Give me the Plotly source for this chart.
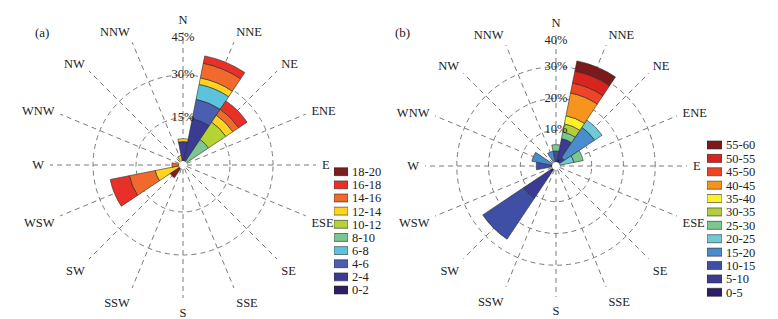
import plotly.graph_objects as go

# ---------------- data ----------------
directions = ["N", "NNE", "NE", "ENE", "E", "ESE", "SE", "SSE",
              "S", "SSW", "SW", "WSW", "W", "WNW", "NW", "NNW"]
angles = [0, 22.5, 45, 67.5, 90, 112.5, 135, 157.5,
          180, 202.5, 225, 247.5, 270, 292.5, 315, 337.5]

# panel (a): frequency (%) of each speed bin by direction
bins_a = ["0-2", "2-4", "4-6", "6-8", "8-10", "10-12", "12-14", "14-16", "16-18", "18-20"]
colors_a = ["#2d1e66", "#3b3b94", "#4a5fb0", "#5cc3df", "#7cc68f",
            "#b6d334", "#ffd320", "#f16a2b", "#e83028", "#7c1e1e"]
a_0_2 = [0, 0, 0, 0, 0, 0, 0, 0, 0, 0, 0, 0, 0, 0, 0, 0]
a_2_4 = [6.8, 15.1, 0, 0, 0, 0, 0, 0, 0, 0, 0, 0, 0, 0, 0, 0]
a_4_6 = [0, 6.9, 0, 0, 0, 0, 0, 0, 0, 0, 0, 0, 0, 0, 0, 0]
a_6_8 = [0, 5.3, 0, 0, 0, 0, 0, 0, 0, 0, 0, 0, 0, 0, 0, 0]
a_8_10 = [0, 0, 9.3, 0, 0, 0, 0, 0, 0, 0, 0, 0, 0, 0, 0, 0]
a_10_12 = [0, 0, 7.3, 0, 0, 0, 0, 0, 0, 0, 0, 0, 0, 0, 0, 0]
a_12_14 = [1.0, 2.3, 2.9, 0, 0, 0, 0, 0, 0, 0, 0, 8.5, 0, 0, 0, 2.0]
a_14_16 = [0, 5.2, 2.5, 0, 0, 0, 0, 0, 0, 0, 0, 9.2, 2.5, 0, 0, 0]
a_16_18 = [0, 2.6, 3.5, 0, 0, 0, 0, 0, 0, 0, 0, 6.8, 0, 0, 0, 0]
a_18_20 = [0, 0, 0, 0, 0, 0, 0, 0, 0, 0, 4.0, 0, 0, 0, 0, 0]
series_a = [a_0_2, a_2_4, a_4_6, a_6_8, a_8_10, a_10_12, a_12_14, a_14_16, a_16_18, a_18_20]
rticks_a = [15, 30, 45]
rlabels_a = ["15%", "30%", "45%"]

# panel (b)
bins_b = ["0-5", "5-10", "10-15", "15-20", "20-25", "25-30",
          "30-35", "35-40", "40-45", "45-50", "50-55", "55-60"]
colors_b = ["#2d1e66", "#3b3b94", "#3f4fa6", "#4a8dcc", "#6fcad6", "#7cc68f",
            "#b3cd3c", "#fff22a", "#f7941e", "#ef4425", "#d9231f", "#7a1a1a"]
b_0_5 = [0, 0.8, 0, 0, 0, 0, 0, 0, 0, 0, 1.0, 0, 0, 0, 0, 0]
b_5_10 = [0, 6.8, 2.0, 0, 0, 0, 0, 0, 0, 0, 10.0, 0, 0, 0, 0, 0]
b_10_15 = [3.5, 0, 0, 0, 0, 0, 0, 0, 0, 0, 15.5, 0, 5.0, 0, 0, 0]
b_15_20 = [0, 0, 11.4, 0, 0, 0, 0, 0, 0, 0, 0, 0, 0, 6.5, 0, 3.5]
b_20_25 = [0, 0, 2.8, 4.5, 0, 0, 0, 0, 0, 0, 0, 0, 0, 0, 0, 0]
b_25_30 = [2.0, 2.1, 0, 3.0, 0, 0, 0, 0, 0, 0, 0, 0, 0, 0, 0, 0]
b_30_35 = [0, 2.6, 0, 0, 0, 0, 0, 0, 0, 0, 0, 0, 0, 0, 0, 0]
b_35_40 = [0, 2.6, 0, 0, 0, 0, 0, 0, 0, 0, 0, 0, 0, 0, 0, 0]
b_40_45 = [0, 7.3, 0, 0, 0, 0, 0, 0, 0, 0, 0, 0, 0, 0, 0, 0]
b_45_50 = [0, 3.2, 0, 0, 0, 0, 0, 0, 0, 0, 0, 0, 0, 0, 0, 0]
b_50_55 = [0, 3.8, 0, 0, 0, 0, 0, 0, 0, 0, 0, 0, 0, 0, 0, 0]
b_55_60 = [0, 3.3, 0, 0, 0, 0, 0, 0, 0, 0, 0, 0, 0, 0, 0, 0]
series_b = [b_0_5, b_5_10, b_10_15, b_15_20, b_20_25, b_25_30,
            b_30_35, b_35_40, b_40_45, b_45_50, b_50_55, b_55_60]
rticks_b = [10, 20, 30, 40]
rlabels_b = ["10%", "20%", "30%", "40%"]

# ---------------- figure ----------------
FONT = "Liberation Serif, Times New Roman, serif"
GRID = "#7a7a7a"
DASH = "5px,4px"
fig = go.Figure()

def add_rose(series, colors, subplot):
    for vals, col in zip(series, colors):
        fig.add_trace(go.Barpolar(
            r=vals, theta=angles, width=22.5, subplot=subplot,
            marker=dict(color=col, line=dict(color="#2a2a2a", width=0.6)),
            showlegend=False, hoverinfo="skip"))

def add_rlabels(ticks, labels, subplot):
    pos = ["middle center"] * (len(ticks) - 1) + ["bottom center"]
    fig.add_trace(go.Scatterpolar(
        r=ticks, theta=[0] * len(ticks), mode="text", text=labels,
        textposition=pos, subplot=subplot, cliponaxis=False,
        textfont=dict(family=FONT, size=12.5, color="#222"),
        showlegend=False, hoverinfo="skip"))

def add_key(bins, colors, xa, ya):
    fig.add_trace(go.Bar(
        x=[1] * len(bins), y=bins, orientation="h", base=0, width=0.6,
        marker=dict(color=colors, line=dict(color="#2a2a2a", width=0.6)),
        xaxis=xa, yaxis=ya, showlegend=False, hoverinfo="skip"))

add_rose(series_a, colors_a, "polar")
add_rlabels(rticks_a, rlabels_a, "polar")
add_rose(series_b, colors_b, "polar2")
add_rlabels(rticks_b, rlabels_b, "polar2")
add_key(bins_a, colors_a, "x", "y")
add_key(bins_b, colors_b, "x2", "y2")

def polar_layout(dom_x, dom_y, rmax, ticks):
    return dict(
        domain=dict(x=dom_x, y=dom_y),
        hole=0.03,
        bgcolor="white",
        radialaxis=dict(range=[0, rmax], tickvals=ticks, showticklabels=False,
                        ticks="", showline=False, gridcolor=GRID,
                        griddash=DASH, gridwidth=1),
        angularaxis=dict(tickvals=angles, ticktext=directions, rotation=90,
                         direction="clockwise", ticks="outside", ticklen=3,
                         tickcolor="rgba(0,0,0,0)", showline=False,
                         gridcolor=GRID, griddash=DASH, gridwidth=1,
                         tickfont=dict(family=FONT, size=12.5, color="#222")),
    )

axis_off = dict(visible=False, range=[0, 1], fixedrange=True)

def key_axis(bins, dom):
    return dict(domain=dom, type="category", categoryorder="array",
                categoryarray=bins, tickmode="array", tickvals=bins,
                ticktext=bins, side="right", ticks="", showgrid=False,
                zeroline=False, showline=False, ticklabelstandoff=3,
                automargin=False, fixedrange=True,
                range=[-0.5, len(bins) - 0.5],
                tickfont=dict(family=FONT, size=12.5, color="#222"))

fig.update_layout(
    width=778, height=319,
    margin=dict(l=0, r=0, t=0, b=0, autoexpand=False),
    paper_bgcolor="white", plot_bgcolor="white",
    polar=polar_layout([0.0643, 0.4062], [0.0658, 0.8997], 45, rticks_a),
    polar2=polar_layout([0.5463, 0.8830], [0.069, 0.8903], 40, rticks_b),
    xaxis=dict(domain=[0.4293, 0.4473], anchor="y", **axis_off),
    yaxis=dict(anchor="x", **key_axis(bins_a, [0.0702, 0.4824])),
    xaxis2=dict(domain=[0.9087, 0.9280], anchor="y2", **axis_off),
    yaxis2=dict(anchor="x2", **key_axis(bins_b, [0.0627, 0.5665])),
    annotations=[
        dict(text="(a)", x=42 / 778, y=1 - 33 / 319, xref="paper", yref="paper",
             xanchor="center", yanchor="middle", showarrow=False,
             font=dict(family=FONT, size=13, color="#222")),
        dict(text="(b)", x=403 / 778, y=1 - 33 / 319, xref="paper", yref="paper",
             xanchor="center", yanchor="middle", showarrow=False,
             font=dict(family=FONT, size=13, color="#222")),
    ],
)

fig.write_html("out.html",
               config={"displayModeBar": False, "staticPlot": True},
               post_script="document.body.style.margin='0';"
                           "document.body.style.overflow='hidden';")
